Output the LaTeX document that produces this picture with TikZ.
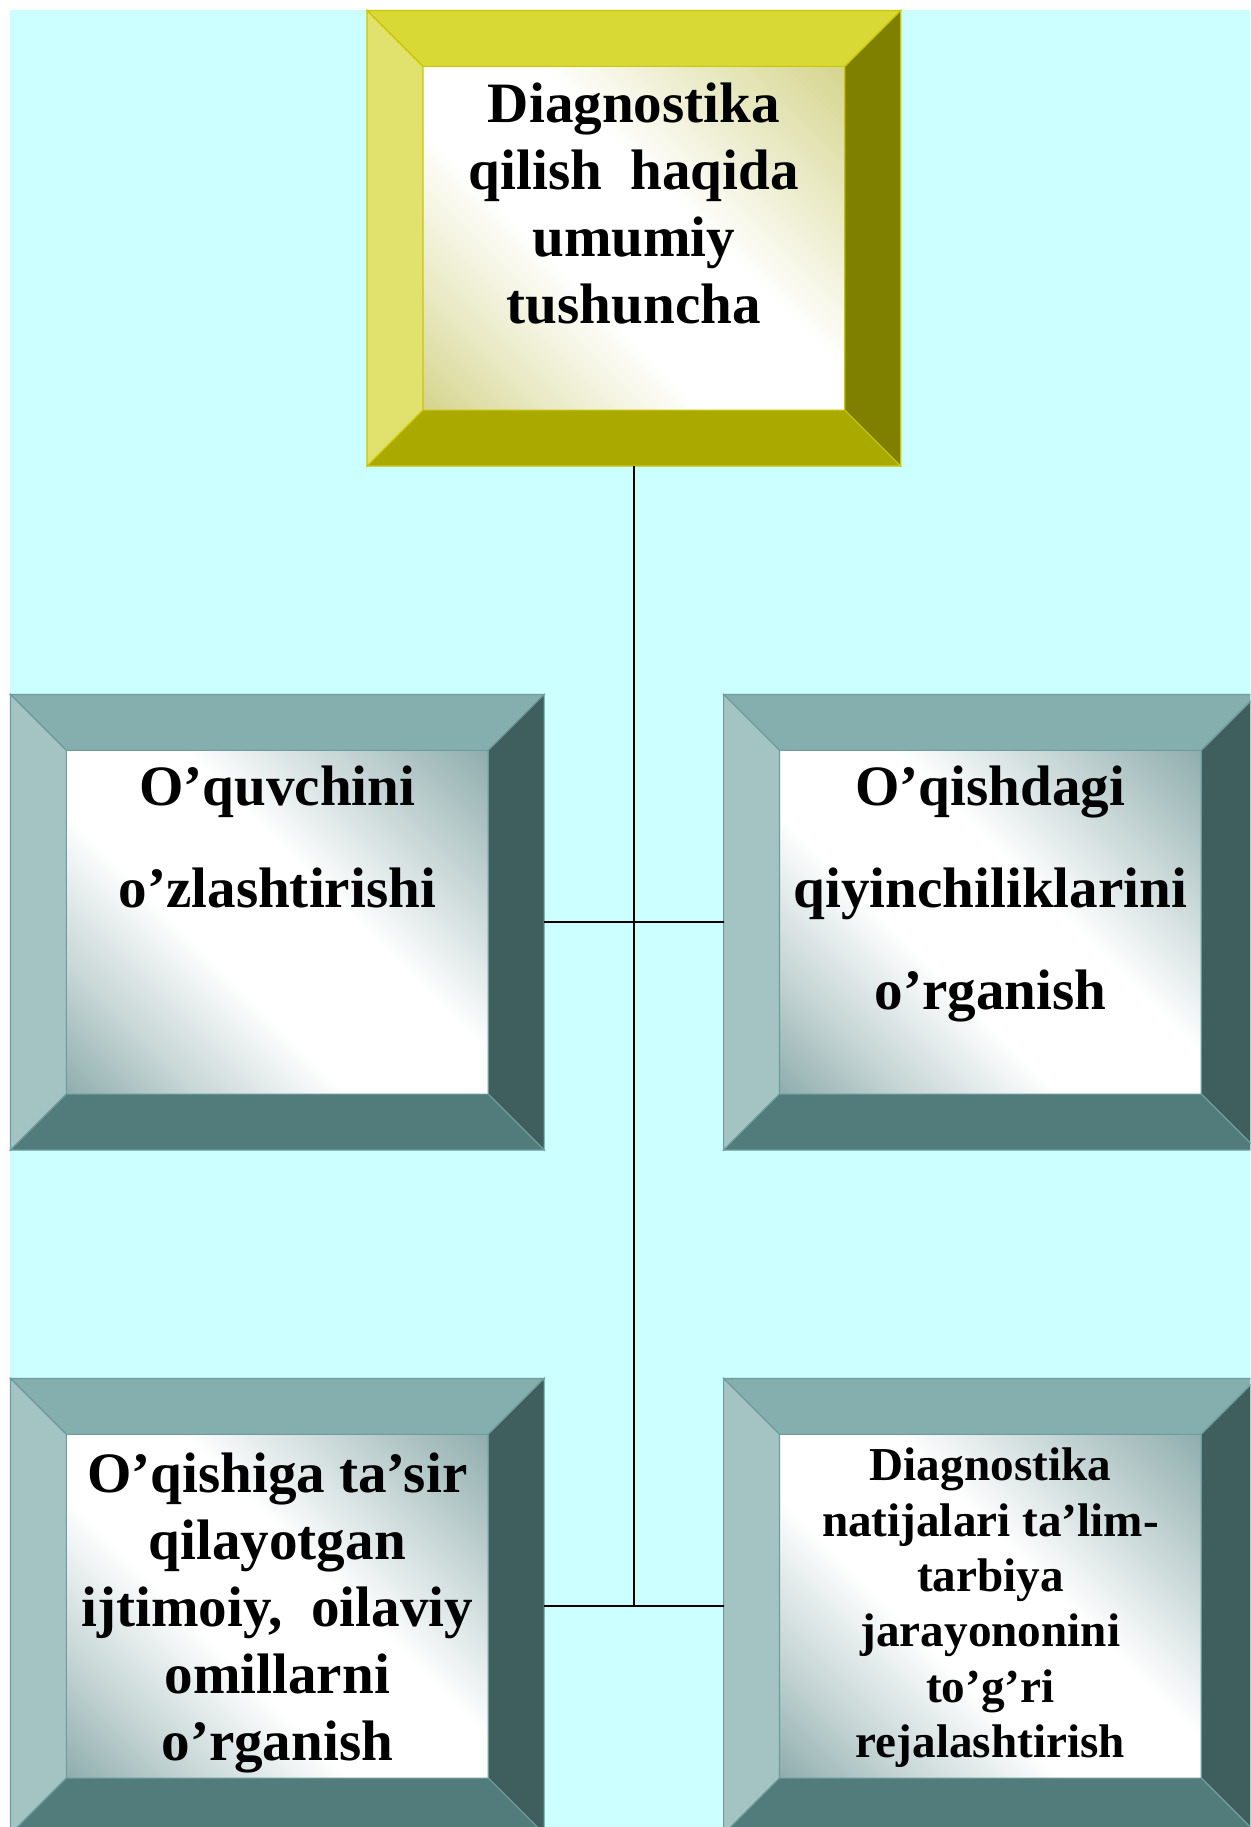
\documentclass[tikz,border=0pt]{standalone}
\usepackage{fontspec}
\setmainfont{Liberation Serif}
\definecolor{bg}{HTML}{CCFFFF}
\definecolor{ytop}{HTML}{D9D936}
\definecolor{yleft}{HTML}{E1E16E}
\definecolor{yright}{HTML}{7F7F00}
\definecolor{ybot}{HTML}{A9A900}
\definecolor{yin}{HTML}{D4D48C}
\definecolor{yline}{HTML}{C8C800}
\definecolor{ttop}{HTML}{85AEAE}
\definecolor{tleft}{HTML}{A4C4C4}
\definecolor{tright}{HTML}{3F5F5F}
\definecolor{tbot}{HTML}{527C7C}
\definecolor{tin}{HTML}{8EACAC}
\definecolor{tline}{HTML}{6E9C9C}
\colorlet{yinmid}{yin!50!white}
\colorlet{tinmid}{tin!50!white}
\pgfdeclareverticalshading{yinside}{100bp}{color(0bp)=(yin); color(17bp)=(yinmid); color(37bp)=(white); color(60bp)=(white); color(80bp)=(yinmid); color(100bp)=(yin)}
\pgfdeclareverticalshading{tinside}{100bp}{color(0bp)=(tin); color(17bp)=(tinmid); color(37bp)=(white); color(60bp)=(white); color(80bp)=(tinmid); color(100bp)=(tin)}
\newcommand\bevelbox[2]{%
  \begin{scope}
    \clip ([shift={(48,48)}]#1.north west) rectangle ([shift={(-48,-48)}]#1.south east);
    \begin{scope}[shift={(#1.center)}, rotate=-45, scale=4.65]
      \pgflowlevelsynccm\pgfuseshading{#2inside}
    \end{scope}
  \end{scope}
  \filldraw[fill=#2top, draw=#2line, line width=1pt] (#1.north west) -- (#1.north east)
    -- ([shift={(-48,48)}]#1.north east) -- ([shift={(48,48)}]#1.north west) -- cycle;
  \filldraw[fill=#2left, draw=#2line, line width=1pt] (#1.north west) -- ([shift={(48,48)}]#1.north west)
    -- ([shift={(48,-48)}]#1.south west) -- (#1.south west) -- cycle;
  \filldraw[fill=#2right, draw=#2line, line width=1pt] (#1.north east) -- ([shift={(-48,48)}]#1.north east)
    -- ([shift={(-48,-48)}]#1.south east) -- (#1.south east) -- cycle;
  \filldraw[fill=#2bot, draw=#2line, line width=1pt] (#1.south west) -- ([shift={(48,-48)}]#1.south west)
    -- ([shift={(-48,-48)}]#1.south east) -- (#1.south east) -- cycle;
}
\tikzset{
  boxshape/.style={minimum width=458pt, minimum height=391pt, inner sep=0pt, outer sep=0pt},
  txt/.style={align=center, inner sep=0pt, text=black},
  big/.style={font=\fontsize{49}{57.5}\selectfont\bfseries},
  wide/.style={font=\fontsize{49}{87.5}\selectfont\bfseries},
  small/.style={font=\fontsize{40.5}{47.5}\selectfont\bfseries},
  conn/.style={draw=black, line width=1.6pt}
}
\begin{document}
\begin{tikzpicture}[x=1pt,y=-1pt]
\useasboundingbox (0,0) rectangle (1073,1568);
\clip (0,0) rectangle (1073,1568);
\fill[white] (0,0) rectangle (1073,1568);
\fill[bg] (9,9) rectangle (1073,1568);
\node[boxshape] (top) at (544,204.5) {};
\node[boxshape] (ml) at (238,791.5) {};
\node[boxshape] (mr) at (850,791.5) {};
\node[boxshape] (bl) at (238,1378.5) {};
\node[boxshape] (br) at (850,1378.5) {};
\bevelbox{top}{y}
\bevelbox{ml}{t}
\bevelbox{mr}{t}
\bevelbox{bl}{t}
\bevelbox{br}{t}
\coordinate (vend) at (top.south |- bl.east);
\draw[conn] (top.south) -- (vend);
\draw[conn] (ml.east) -- (mr.west);
\draw[conn] (bl.east) -- (br.west);
\node[txt, big] (toptxt) at (544,175) {Diagnostika\\qilish \ haqida\\umumiy\\tushuncha};
\node[txt, wide] (mltxt) at (238,718.5) {O’quvchini\\o’zlashtirishi};
\node[txt, wide] (mrtxt) at (850,767) {O’qishdagi\\qiyinchiliklarini\\o’rganish};
\node[txt, big] (bltxt) at (238,1384) {O’qishiga ta’sir\\qilayotgan\\ijtimoiy, \ oilaviy\\omillarni\\o’rganish};
\node[txt, small] (brtxt) at (850,1380) {Diagnostika\\natijalari ta’lim-\\tarbiya\\jarayononini\\to’g’ri\\rejalashtirish};
\end{tikzpicture}
\end{document}
